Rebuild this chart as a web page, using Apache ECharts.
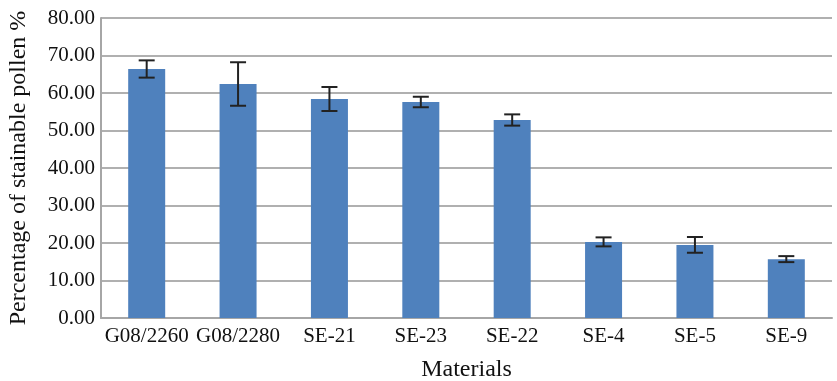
<!DOCTYPE html>
<html><head><meta charset="utf-8">
<script src="https://cdn.jsdelivr.net/npm/echarts@6/dist/echarts.min.js"></script>
<style>html,body{margin:0;padding:0;background:#fff}#c{width:837px;height:381px}</style>
</head><body><div id="c"></div>
<script>
var categories = ['G08/2260','G08/2280','SE-21','SE-23','SE-22','SE-4','SE-5','SE-9'];
var values = [66.4, 62.4, 58.4, 57.6, 52.8, 20.3, 19.5, 15.7];
var errors = [2.3, 5.8, 3.2, 1.4, 1.5, 1.2, 2.1, 0.8];
var yTicks = [0, 10, 20, 30, 40, 50, 60, 70, 80];

var font = 'Liberation Serif';
var chart = echarts.init(document.getElementById('c'));
var errData = values.map(function(v, i){ return [i, v - errors[i], v + errors[i]]; });
chart.setOption({
  animation: false,
  grid: {left: 101, right: 5, top: 18, bottom: 63, containLabel: false, outerBoundsMode: 'none'},
  xAxis: {
    type: 'category', data: categories,
    name: 'Materials', nameLocation: 'middle', nameGap: 40,
    nameTextStyle: {fontFamily: font, fontSize: 24, color: '#111'},
    axisLine: {lineStyle: {color: '#a6a6a6', width: 2}},
    axisTick: {show: false},
    axisLabel: {fontFamily: font, fontSize: 21, color: '#111', margin: 8, interval: 0}
  },
  yAxis: {
    type: 'value', min: yTicks[0], max: yTicks[yTicks.length-1], interval: 10,
    name: 'Percentage of stainable pollen %', nameLocation: 'middle', nameGap: 70,
    nameTextStyle: {fontFamily: font, fontSize: 24, color: '#111'},
    axisLine: {show: true, lineStyle: {color: '#a6a6a6', width: 2}},
    axisTick: {show: false},
    splitLine: {lineStyle: {color: '#b0b0b0', width: 2}},
    axisLabel: {fontFamily: font, fontSize: 21, color: '#111', margin: 6,
      formatter: function(v){ return v.toFixed(2); }}
  },
  series: [{
    type: 'bar', data: values, barWidth: 37,
    itemStyle: {color: '#4f81bd'}
  }, {
    type: 'custom', data: errData, z: 10,
    renderItem: function(params, api){
      var x = api.value(0);
      var lo = api.coord([x, api.value(1)]);
      var hi = api.coord([x, api.value(2)]);
      var hw = 8;
      var st = {stroke: '#222', lineWidth: 2};
      return {type: 'group', children: [
        {type: 'line', shape: {x1: lo[0], y1: lo[1], x2: hi[0], y2: hi[1]}, style: st},
        {type: 'line', shape: {x1: lo[0]-hw, y1: lo[1], x2: lo[0]+hw, y2: lo[1]}, style: st},
        {type: 'line', shape: {x1: hi[0]-hw, y1: hi[1], x2: hi[0]+hw, y2: hi[1]}, style: st}
      ]};
    }
  }]
});
</script></body></html>
